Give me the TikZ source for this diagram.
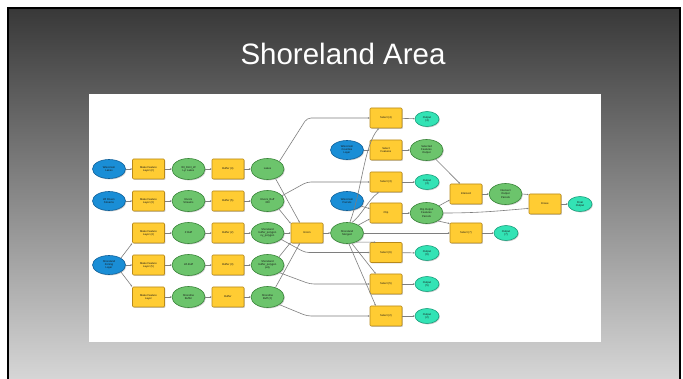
\documentclass[tikz,border=0pt]{standalone}
\usepackage{fontspec}
\setmainfont{Liberation Sans}
\usetikzlibrary{shapes.geometric,shadows,arrows.meta}
\definecolor{mbyellow}{HTML}{FFCC33}
\definecolor{mbyellowd}{HTML}{B8891A}
\definecolor{mbgreen}{HTML}{6CC46C}
\definecolor{mbgreend}{HTML}{3A853A}
\definecolor{mbblue}{HTML}{1A8ED6}
\definecolor{mbblued}{HTML}{0E5F99}
\definecolor{mbcyan}{HTML}{33E3B5}
\definecolor{mbcyand}{HTML}{1A9E7C}
\definecolor{conncol}{HTML}{7E7E7E}
\definecolor{slidetop}{HTML}{383838}
\definecolor{slidebot}{HTML}{D6D6D6}
\tikzset{
  mbbase/.style={font=\fontsize{2.7}{3.1}\selectfont, text=black!90, align=center, inner sep=0.5pt, line width=0.6pt,
    drop shadow={shadow xshift=0.9pt,shadow yshift=-0.9pt,opacity=0.4}},
  tool/.style={mbbase, rectangle, fill=mbyellow, draw=mbyellowd, minimum width=32pt, minimum height=20pt, rounded corners=1pt},
  gdata/.style={mbbase, ellipse, fill=mbgreen, draw=mbgreend, minimum width=33pt, minimum height=21pt},
  bdata/.style={mbbase, ellipse, fill=mbblue, draw=mbblued, minimum width=33pt, minimum height=19pt},
  cdata/.style={mbbase, ellipse, fill=mbcyan, draw=mbcyand, minimum width=24pt, minimum height=15pt},
  conn/.style={draw=conncol, line width=0.6pt, -{Stealth[length=1.8pt,width=1.6pt]}, rounded corners=4pt},
  titletext/.style={font=\fontsize{29.5}{32}\selectfont, text=white, inner sep=0pt, anchor=base},
}
\begin{document}
\begin{tikzpicture}[x=1pt,y=-1pt]
\useasboundingbox (0,0) rectangle (683,379);
\fill[white] (0,0) rectangle (683,379);
% slide background
\shade[top color=slidetop, bottom color=slidebot] (8,8) rectangle (680,379);
\draw[black, line width=2.5pt] (8,379) -- (8,8) -- (680,8) -- (680,379);
\node[titletext] (title) at (343,65) {Shoreland Area};
% white panel
\fill[white] (89,94) rectangle (601,342);

% ---- left rows ----
\node[bdata] (r1a) at (109,169) {Wisconsin\\Lakes};
\node[tool]  (r1b) at (148.5,169) {Make Feature\\Layer (2)};
\node[gdata] (r1c) at (188.5,169) {WI\_DLN\_W\\Lyr Lakes};
\node[tool]  (r1d) at (228,169) {Buffer (4)};
\node[gdata] (r1e) at (267.5,169) {Lakes};

\node[bdata] (r2a) at (109,201) {WI Rivers\\Streams};
\node[tool]  (r2b) at (148.5,201) {Make Feature\\Layer (3)};
\node[gdata] (r2c) at (188.5,201) {Rivers\\Streams};
\node[tool]  (r2d) at (228,201) {Buffer (5)};
\node[gdata] (r2e) at (267.5,201) {Rivers\_Buff\\300};

\node[tool]  (r3b) at (148.5,233) {Make Feature\\Layer (4)};
\node[gdata] (r3c) at (188.5,233) {Z Buff};
\node[tool]  (r3d) at (228,233) {Buffer (2)};
\node[gdata] (r3e) at (267.5,233) {Shoreland\\buffer\_polygon\\ny\_polygon};

\node[bdata] (r4a) at (109,265) {Shoreland\\Zoning\\Layer};
\node[tool]  (r4b) at (148.5,265) {Make Feature\\Layer (5)};
\node[gdata] (r4c) at (188.5,265) {ZA Buff};
\node[tool]  (r4d) at (228,265) {Buffer (3)};
\node[gdata] (r4e) at (267.5,265) {Shoreland\\buffer\_polygon\\poly};

\node[tool]  (r5b) at (148.5,297) {Make Feature\\Layer};
\node[gdata] (r5c) at (188.5,297) {Shoreline\\Buffer};
\node[tool]  (r5d) at (228,297) {Buffer};
\node[gdata] (r5e) at (267.5,297) {Shoreline\\Buff (2)};

% ---- centre ----
\node[tool]  (u) at (307,233) {Union};
\node[gdata] (m) at (347,233) {Shoreland\\Merged};

% ---- right column ----
\node[tool]  (s1) at (386,118) {Select (4)};
\node[cdata] (c1) at (427,119) {Output\\(4)};
\node[bdata] (b1) at (347,150) {Wisconsin\\Counties\\Layer};
\node[tool]  (s2) at (386,150) {Select\\Features};
\node[gdata] (k2) at (426.5,150) {Selected\\Features\\Output};
\node[tool]  (s3) at (386,182) {Select (3)};
\node[cdata] (c3) at (427,182) {Output\\(3)};
\node[bdata] (b2) at (347,201) {Wisconsin\\Parcels};
\node[tool]  (s4) at (386,213) {Clip};
\node[gdata] (k4) at (426.5,213) {Clip Output\\Features\\Parcels};
\node[tool]  (s5) at (386,252.5) {Select (6)};
\node[cdata] (c5) at (427,253) {Output\\(6)};
\node[tool]  (s6) at (386,284) {Select (5)};
\node[cdata] (c6) at (427,284) {Output\\(5)};
\node[tool]  (s7) at (386,316) {Select (2)};
\node[cdata] (c7) at (427,316) {Output\\(2)};

\node[tool]  (i)  at (466,194) {Intersect};
\node[gdata] (ko) at (505.5,194) {Intersect\\Output\\Parcels};
\node[tool]  (x3) at (466,233) {Select (7)};
\node[cdata] (xc) at (506,233) {Output\\(7)};
\node[tool]  (f)  at (545,204) {Erase};
\node[cdata] (fc) at (580,204) {Final\\Output};

% ---- connectors ----
\foreach \r in {1,2} {
  \draw[conn] (r\r a) -- (r\r b);
}
\foreach \r in {1,...,5} {
  \draw[conn] (r\r b) -- (r\r c);
  \draw[conn] (r\r c) -- (r\r d);
  \draw[conn] (r\r d) -- (r\r e);
}
\draw[conn] (r4a) -- (r4b);
\draw[conn] (r4a.north east) -- (r3b.south west);
\draw[conn] (r4a.south east) -- (r5b.north west);

% to union
\draw[conn] (r1e.-50) -- (u.125);
\draw[conn] (r2e.-35) -- (u.150);
\draw[conn] (r3e) -- (u);
\draw[conn] (r4e.35) -- (u.-150);
\draw[conn] (r5e.50) -- (u.-125);
\draw[conn] (u) -- (m);

% long lines from buffers to selects
\draw[conn] (r1e.north east) -- (307,118) -- (s1.west);
\draw[conn] (r2e.20) -- (307,182) -- (s3.west);
\draw[conn] (r3e.-25) -- (305,252.5) -- (s5.west);
\draw[conn] (r4e.south east) -- (310,284) -- (s6.west);
\draw[conn] (r5e.south east) -- (307,316) -- (s7.west);

% from merged
\draw[conn] (m.75) .. controls (362,190) and (364,145) .. (s1.-125);
\draw[conn] (m.65) .. controls (362,215) and (368,200) .. (s3.-125);
\draw[conn] (m.35) -- (s4.-160);
\draw[conn] (m) -- (x3);
\draw[conn] (m.-45) -- (s5.135);
\draw[conn] (m.-65) -- (s6.135);
\draw[conn] (m.-80) -- (s7.135);
\draw[conn] (b2.-20) -- (s4.165);

% right part
\draw[conn] (s1) -- (c1);
\draw[conn] (b1) -- (s2);
\draw[conn] (s2) -- (k2);
\draw[conn] (s3) -- (c3);
\draw[conn] (s4) -- (k4);
\draw[conn] (s5) -- (c5);
\draw[conn] (s6) -- (c6);
\draw[conn] (s7) -- (c7);
\draw[conn] (k2.-45) -- (i.120);
\draw[conn] (k4.30) -- (i.-160);
\draw[conn] (k4.-35) -- (x3.150);
\draw[conn] (k4.east) to[out=0,in=185] (f.-165);
\draw[conn] (i) -- (ko);
\draw[conn] (ko.east) -- (f.150);
\draw[conn] (f) -- (fc);
\draw[conn] (x3) -- (xc);
\end{tikzpicture}
\end{document}
